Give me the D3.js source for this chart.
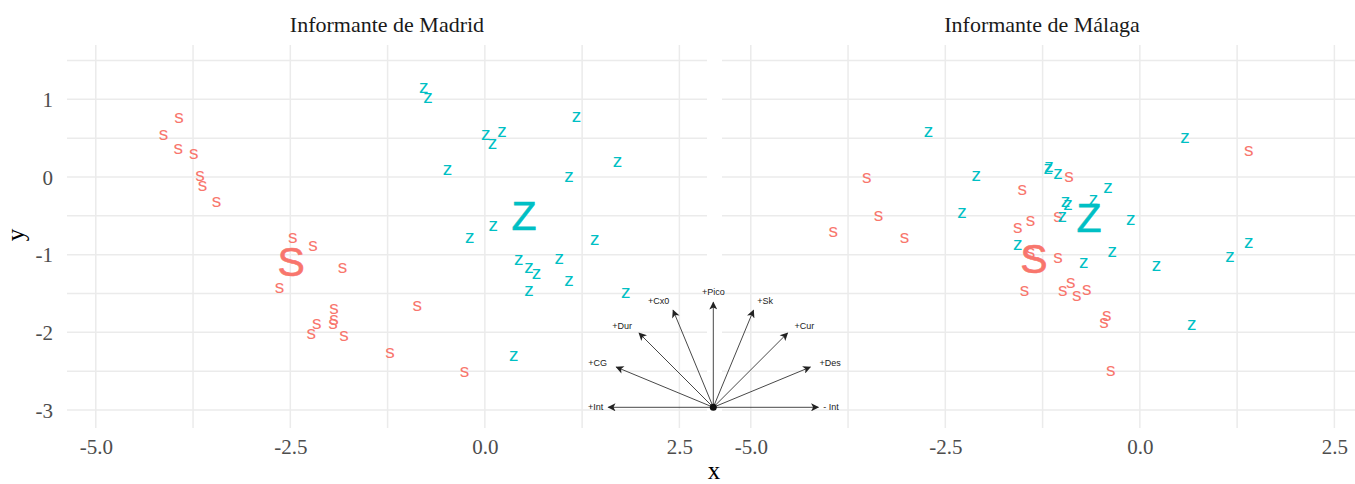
<!DOCTYPE html>
<html>
<head>
<meta charset="utf-8">
<script src="https://cdn.jsdelivr.net/npm/d3@7/dist/d3.min.js"></script>
<style>
  html, body { margin: 0; padding: 0; background: #fff; }
  svg { display: block; }
</style>
</head>
<body>
<svg id="chart" width="1355" height="484"></svg>
<script>
// ---------------- DATA ----------------
const panels = ["Informante de Madrid", "Informante de Málaga"];
const xTicks = [-5.0, -2.5, 0.0, 2.5];
const xTickLabels = ["-5.0", "-2.5", "0.0", "2.5"];
const yTicks = [-3, -2, -1, 0, 1];
const yTickLabels = ["-3", "-2", "-1", "0", "1"];

// Madrid: "s" points
const madridS = [
  [-3.93, 0.756], [-4.13, 0.54], [-3.94, 0.357], [-3.74, 0.296], [-3.66, 0.017],
  [-3.63, -0.112], [-3.45, -0.326], [-2.47, -0.786], [-2.21, -0.889], [-1.83, -1.176],
  [-2.64, -1.434], [-0.87, -1.658], [-1.94, -1.705], [-1.94, -1.843], [-1.95, -1.894],
  [-2.16, -1.898], [-2.23, -2.023], [-1.81, -2.049], [-1.22, -2.272], [-0.26, -2.517]
];
// Madrid: "z" points
const madridZ = [
  [-0.784, 1.143], [-0.729, 1.018], [1.179, 0.769], [0.013, 0.541], [0.222, 0.584],
  [0.099, 0.425], [-0.479, 0.09], [1.706, 0.197], [1.08, -0.004], [0.107, -0.631],
  [-0.193, -0.79], [1.414, -0.812], [0.437, -1.07], [0.955, -1.061], [0.569, -1.177],
  [0.665, -1.25], [1.08, -1.336], [0.566, -1.465], [1.812, -1.491], [0.373, -2.307]
];
// Málaga: "s" points
const malagaS = [
  [-3.509, -0.017], [-1.512, -0.168], [-0.911, -0.004], [-3.36, -0.503], [-1.405, -0.563],
  [-1.053, -0.512], [-3.94, -0.705], [-1.568, -0.661], [-3.024, -0.782], [-1.405, -0.983],
  [-1.053, -1.044], [-1.482, -1.469], [-0.992, -1.469], [-0.889, -1.372], [-0.812, -1.53],
  [-0.683, -1.452], [-0.425, -1.796], [-0.46, -1.885], [-0.374, -2.5], [1.401, 0.339]
];
// Málaga: "z" points
const malagaZ = [
  [-2.715, 0.584], [-2.101, 0.013], [-1.169, 0.133], [-1.177, 0.099], [-1.053, 0.039],
  [-0.409, -0.146], [-2.285, -0.468], [-0.954, -0.318], [-0.924, -0.361], [-0.597, -0.296],
  [-0.996, -0.512], [-1.568, -0.876], [-0.354, -0.963], [-0.722, -1.104], [0.58, 0.499],
  [-0.116, -0.554], [1.401, -0.847], [1.16, -1.035], [0.215, -1.147], [0.666, -1.907]
];
// Group centroids (large letters)
const centroidS = [[-2.49, -1.079], [-1.362, -1.048]];
const centroidZ = [[0.505, -0.49], [-0.653, -0.512]];

// Vector diagram (angle in degrees, relative length)
const vectorLabels = ["+Int", "+CG", "+Dur", "+Cx0", "+Pico", "+Sk", "+Cur", "+Des", "- Int"];
const vectorAngles = [180, 157.5, 135, 112.5, 90, 67.5, 45, 22.5, 0];
const vectorLengths = [1, 1, 1, 1, 1, 1, 1, 1, 1];

// ---------------- LAYOUT ----------------
const svg = d3.select("#chart");
const colS = "#F8766D", colZ = "#00BFC4";
const serif = "'Liberation Serif', 'Times New Roman', serif";
const sans = "'Liberation Sans', Arial, sans-serif";
const gridCol = "#EBEBEB";

const panelTop = 45, panelBottom = 428;
const panelRanges = [[67, 707], [722, 1362]];
const xDomain = [-5.37, 2.855];
const y = d3.scaleLinear().domain([-3.232, 1.70]).range([panelBottom, panelTop]);

const xMinor = [-3.75, -1.25, 1.25];
const yMinor = [-2.5, -1.5, -0.5, 0.5, 1.5];

const pointSets = [[madridS, madridZ], [malagaS, malagaZ]];

panels.forEach((title, i) => {
  const x = d3.scaleLinear().domain(xDomain).range(panelRanges[i]);
  const g = svg.append("g");

  g.selectAll(".vgrid").data(xTicks.concat(xMinor)).enter().append("line")
    .attr("x1", d => x(d)).attr("x2", d => x(d))
    .attr("y1", panelTop).attr("y2", panelBottom)
    .attr("stroke", gridCol).attr("stroke-width", 1.5);
  g.selectAll(".hgrid").data(yTicks.concat(yMinor)).enter().append("line")
    .attr("x1", panelRanges[i][0]).attr("x2", panelRanges[i][1])
    .attr("y1", d => y(d)).attr("y2", d => y(d))
    .attr("stroke", gridCol).attr("stroke-width", 1.5);

  const xAxis = d3.axisBottom(x).tickValues(xTicks)
    .tickFormat((d, k) => xTickLabels[k]).tickSize(0).tickPadding(0);
  const ax = g.append("g").attr("transform", `translate(0,${panelBottom})`).call(xAxis);
  ax.select(".domain").remove();
  ax.selectAll("text").attr("font-family", serif).attr("font-size", 21)
    .attr("fill", "#4D4D4D").attr("dy", null).attr("y", 26);

  if (i === 0) {
    const yAxis = d3.axisLeft(y).tickValues(yTicks)
      .tickFormat((d, k) => yTickLabels[k]).tickSize(0).tickPadding(0);
    const ay = g.append("g").attr("transform", `translate(53,0)`).call(yAxis);
    ay.select(".domain").remove();
    ay.selectAll("text").attr("font-family", serif).attr("font-size", 21)
      .attr("fill", "#4D4D4D").attr("x", 0).attr("dy", "0.34em");
  }

  g.append("text").attr("x", (panelRanges[i][0] + panelRanges[i][1]) / 2).attr("y", 32)
    .attr("text-anchor", "middle").attr("font-family", serif).attr("font-size", 22)
    .attr("fill", "#1A1A1A").text(title);

  const pts = g.append("g");
  const [sPts, zPts] = pointSets[i];
  pts.selectAll(".s").data(sPts).enter().append("text")
    .attr("x", d => x(d[0])).attr("y", d => y(d[1])).attr("dy", "0.26em")
    .attr("text-anchor", "middle").attr("font-family", sans).attr("font-size", 19)
    .attr("fill", colS).text("s");
  pts.selectAll(".z").data(zPts).enter().append("text")
    .attr("x", d => x(d[0])).attr("y", d => y(d[1])).attr("dy", "0.26em")
    .attr("text-anchor", "middle").attr("font-family", sans).attr("font-size", 19)
    .attr("fill", colZ).text("z");
  pts.append("text").datum(centroidS[i])
    .attr("x", d => x(d[0])).attr("y", d => y(d[1])).attr("dy", "0.36em")
    .attr("text-anchor", "middle").attr("font-family", sans).attr("font-size", 41)
    .attr("fill", colS).attr("stroke", colS).attr("stroke-width", 0.6).text("S");
  pts.append("text").datum(centroidZ[i])
    .attr("x", d => x(d[0])).attr("y", d => y(d[1])).attr("dy", "0.36em")
    .attr("text-anchor", "middle").attr("font-family", sans).attr("font-size", 41)
    .attr("fill", colZ).attr("stroke", colZ).attr("stroke-width", 0.6).text("Z");
});

// axis titles
svg.append("text").attr("x", 714).attr("y", 479).attr("text-anchor", "middle")
  .attr("font-family", serif).attr("font-size", 25).attr("fill", "#000").text("x");
svg.append("text").attr("transform", "translate(24,235) rotate(-90)")
  .attr("text-anchor", "middle").attr("font-family", serif).attr("font-size", 25)
  .attr("fill", "#000").text("y");

// ---------------- VECTOR DIAGRAM ----------------
const defs = svg.append("defs");
defs.append("marker").attr("id", "arrowhead")
  .attr("viewBox", "0 0 10 10").attr("refX", 9).attr("refY", 5)
  .attr("markerWidth", 10).attr("markerHeight", 8).attr("markerUnits", "userSpaceOnUse")
  .attr("orient", "auto")
  .append("path").attr("d", "M0,0 L10,5 L0,10 L2.5,5 Z").attr("fill", "#222");

const rScale = d3.scaleLinear().domain([0, 1]).range([0, 105]);
const cx = 713.3, cy = 407.3;
const vg = svg.append("g").attr("transform", `translate(${cx},${cy})`);
const vecs = vectorLabels.map((l, k) => ({ label: l, a: vectorAngles[k] * Math.PI / 180, r: vectorLengths[k] }));

vg.selectAll("line.vec").data(vecs).enter().append("line")
  .attr("x1", 0).attr("y1", 0)
  .attr("x2", d => rScale(d.r) * Math.cos(d.a))
  .attr("y2", d => -rScale(d.r) * Math.sin(d.a))
  .attr("stroke", "#333").attr("stroke-width", 0.9)
  .attr("marker-end", "url(#arrowhead)");

vg.selectAll("text.vec").data(vecs).enter().append("text")
  .attr("x", d => {
    const horiz = Math.abs(Math.sin(d.a)) < 0.01;
    return (rScale(d.r) + (horiz ? 5 : 10)) * Math.cos(d.a);
  })
  .attr("y", d => -(rScale(d.r) + 10) * Math.sin(d.a))
  .attr("dy", "0.35em")
  .attr("text-anchor", d => Math.abs(Math.cos(d.a)) < 0.01 ? "middle" : (Math.cos(d.a) < 0 ? "end" : "start"))
  .attr("font-family", "'Liberation Sans', Arial, sans-serif").attr("font-size", 9).attr("fill", "#222")
  .text(d => d.label);

vg.append("circle").attr("r", 3.5).attr("fill", "#111");
</script>
</body>
</html>
